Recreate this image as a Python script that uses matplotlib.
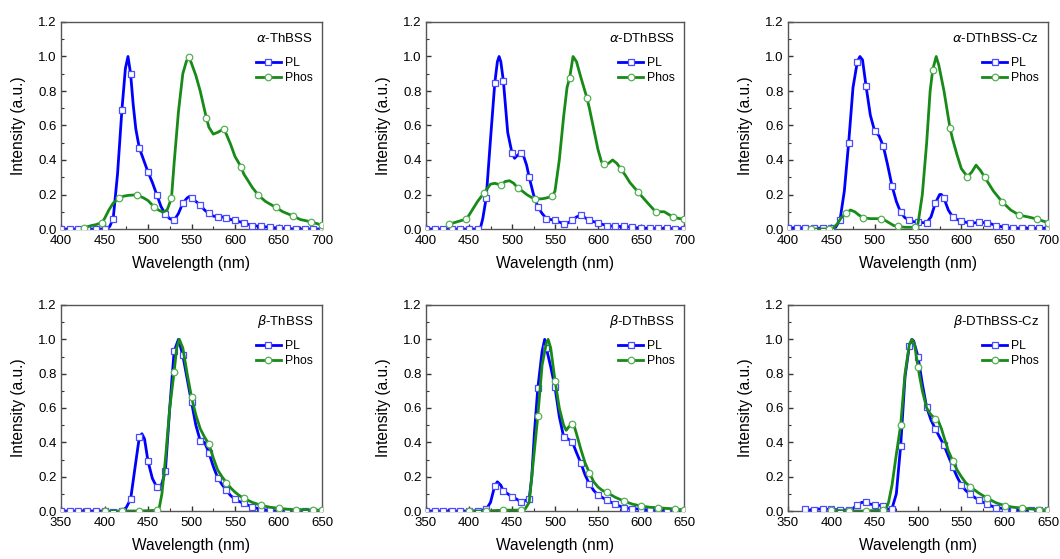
import numpy as np
import matplotlib
matplotlib.use("Agg")
import matplotlib.pyplot as plt
from matplotlib.ticker import MultipleLocator, FormatStrFormatter
from matplotlib.lines import Line2D

plt.rcParams['font.family'] = ['Liberation Sans', 'DejaVu Sans']

# ---------------- data (wavelength nm, normalized intensity) ----------------
A_THBSS_PL = [(400,0),(410,0),(420,0),(430,0),(440,0),(450,0),(453,0),(456,0.015),(460,0.06),(465,0.32),
              (470,0.69),(474,0.93),(477,1.0),(480,0.90),(483,0.72),(486,0.58),(490,0.47),(495,0.40),(500,0.33),
              (505,0.27),(510,0.20),(515,0.13),(520,0.085),(525,0.06),(530,0.05),(535,0.09),(540,0.15),
              (545,0.18),(548,0.19),(550,0.18),(555,0.16),(560,0.14),(565,0.11),(570,0.09),(575,0.075),
              (580,0.07),(585,0.07),(590,0.065),(595,0.055),(600,0.05),(610,0.035),(620,0.02),(630,0.015),
              (640,0.01),(650,0.005),(660,0.003),(670,0),(680,0),(690,0),(700,0)]
A_THBSS_PH = [(427,0.008),(435,0.02),(440,0.025),(447,0.037),(450,0.06),(455,0.11),(460,0.15),(467,0.18),
              (472,0.19),(477,0.195),(487,0.198),(495,0.18),(500,0.165),(507,0.128),(512,0.11),(517,0.098),
              (522,0.11),(527,0.18),(530,0.38),(535,0.68),(540,0.90),(544,0.97),(547,1.0),(550,0.96),
              (555,0.89),(560,0.80),(567,0.646),(570,0.59),(575,0.55),(580,0.56),(587,0.58),(590,0.55),
              (595,0.49),(600,0.42),(607,0.36),(610,0.32),(615,0.28),(620,0.24),(627,0.195),(635,0.16),
              (647,0.125),(655,0.10),(667,0.075),(675,0.055),(687,0.042),(695,0.03),(700,0.022)]

A_DTHBSS_PL = [(400,0),(410,0),(420,0),(430,0),(440,0),(450,0),(460,0),(463,0),(466,0.06),(470,0.18),
               (475,0.52),(480,0.847),(483,0.97),(485,1.0),(487,0.97),(490,0.857),(495,0.56),(500,0.44),
               (503,0.41),(507,0.43),(510,0.44),(513,0.43),(517,0.37),(520,0.30),(525,0.20),(530,0.13),
               (535,0.09),(540,0.06),(545,0.055),(550,0.05),(555,0.04),(560,0.03),(565,0.035),(570,0.05),
               (575,0.07),(580,0.08),(585,0.065),(590,0.05),(600,0.035),(610,0.02),(620,0.015),(630,0.015),
               (640,0.01),(650,0.005),(660,0.005),(670,0.003),(680,0.003),(690,0.002),(700,0.002)]
A_DTHBSS_PH = [(427,0.028),(435,0.04),(447,0.058),(450,0.08),(455,0.12),(460,0.16),(467,0.206),(475,0.26),
               (480,0.265),(487,0.255),(492,0.275),(497,0.28),(502,0.265),(507,0.235),(512,0.22),(517,0.20),
               (522,0.185),(527,0.175),(535,0.175),(540,0.18),(547,0.19),(550,0.22),(555,0.40),(560,0.65),
               (564,0.82),(567,0.876),(571,1.0),(575,0.97),(580,0.88),(587,0.762),(590,0.70),(595,0.58),
               (600,0.46),(604,0.39),(607,0.378),(612,0.38),(617,0.40),(622,0.38),(627,0.345),(632,0.31),
               (637,0.27),(647,0.212),(657,0.155),(667,0.10),(672,0.10),(677,0.10),(687,0.07),(695,0.06),(700,0.058)]

A_DTHBSS_CZ_PL = [(400,0.005),(410,0.008),(420,0.005),(430,0.005),(440,0.005),(450,0.005),(455,0.01),
                  (460,0.052),(465,0.22),(470,0.50),(475,0.82),(480,0.97),(483,1.0),(486,0.98),(490,0.83),
                  (495,0.66),(500,0.567),(505,0.54),(510,0.48),(515,0.37),(520,0.25),(525,0.16),(530,0.096),
                  (535,0.065),(540,0.052),(545,0.042),(550,0.042),(555,0.037),(560,0.037),(565,0.07),
                  (570,0.15),(575,0.20),(577,0.20),(580,0.178),(585,0.11),(590,0.07),(595,0.055),(600,0.046),
                  (610,0.033),(620,0.038),(630,0.037),(640,0.02),(650,0.01),(660,0.005),(670,0.005),
                  (680,0.005),(690,0.005),(700,0.005)]
A_DTHBSS_CZ_PH = [(427,0),(447,0),(452,0.005),(457,0.03),(462,0.07),(467,0.09),(472,0.11),(477,0.10),
                  (482,0.08),(487,0.065),(495,0.06),(500,0.06),(507,0.06),(512,0.05),(517,0.035),(522,0.02),
                  (527,0.015),(535,0.01),(540,0.01),(547,0.01),(550,0.03),(555,0.2),(560,0.5),(564,0.8),
                  (567,0.924),(571,1.0),(574,0.95),(580,0.80),(587,0.583),(590,0.52),(595,0.43),(600,0.35),
                  (607,0.303),(612,0.33),(617,0.37),(622,0.34),(627,0.30),(632,0.26),(637,0.22),(647,0.158),
                  (657,0.11),(667,0.08),(677,0.07),(687,0.058),(695,0.045),(700,0.037)]

B_THBSS_PL = [(350,0),(360,0),(370,0),(380,0),(390,0),(400,0),(410,-0.005),(420,0),(425,0.02),(430,0.068),
              (435,0.25),(440,0.43),(443,0.45),(446,0.42),(450,0.29),(455,0.19),(460,0.14),(463,0.135),
              (466,0.16),(470,0.234),(475,0.60),(480,0.93),(485,1.0),(490,0.907),(495,0.77),(500,0.634),
              (505,0.50),(510,0.41),(515,0.40),(520,0.34),(525,0.26),(530,0.195),(535,0.155),(540,0.12),
              (545,0.09),(550,0.068),(555,0.055),(560,0.045),(570,0.023),(580,0.01),(590,0.003),(600,0),
              (610,0),(620,0),(630,0),(640,0),(650,0)]
B_THBSS_PH = [(400,0),(420,0),(440,0),(460,0.004),(463,0.02),(466,0.10),(470,0.30),(475,0.60),(480,0.81),
              (483,0.95),(486,1.0),(490,0.95),(495,0.80),(500,0.663),(505,0.56),(510,0.48),(515,0.43),
              (520,0.39),(525,0.31),(530,0.24),(535,0.20),(540,0.166),(545,0.135),(550,0.11),(555,0.09),
              (560,0.074),(570,0.05),(580,0.033),(590,0.022),(600,0.016),(610,0.01),(620,0.008),(630,0.007),
              (640,0.006),(650,0.004)]

B_DTHBSS_PL = [(350,0),(360,0),(370,0),(380,0),(390,0),(400,0),(410,0),(420,0.01),(425,0.05),(430,0.148),
               (433,0.17),(437,0.15),(440,0.117),(445,0.10),(450,0.083),(455,0.07),(460,0.054),(465,0.06),
               (470,0.07),(473,0.20),(476,0.45),(480,0.715),(485,0.93),(488,1.0),(490,0.948),(495,0.84),
               (500,0.72),(505,0.55),(510,0.433),(515,0.42),(520,0.404),(525,0.34),(530,0.28),(535,0.21),
               (540,0.157),(545,0.12),(550,0.093),(560,0.064),(570,0.039),(580,0.019),(590,0.014),
               (600,0.01),(610,0.005),(620,0.003),(630,0.002),(640,0.002),(650,0.002)]
B_DTHBSS_PH = [(400,0),(420,0),(440,0.005),(460,0.005),(465,0.01),(470,0.05),(475,0.30),(480,0.553),
               (485,0.85),(490,0.98),(492,1.0),(495,0.95),(500,0.76),(505,0.60),(510,0.50),(513,0.47),
               (516,0.49),(520,0.507),(522,0.50),(525,0.45),(530,0.36),(535,0.28),(540,0.223),(545,0.17),
               (550,0.14),(555,0.12),(560,0.109),(570,0.08),(580,0.058),(590,0.04),(600,0.029),(610,0.022),
               (620,0.019),(630,0.015),(640,0.012),(650,0.006)]

B_DTHBSS_CZ_PL = [(370,0.012),(375,0.005),(380,0.006),(385,0.012),(390,0.01),(400,0.01),(410,0.006),
                  (420,0.006),(425,0.015),(430,0.035),(435,0.05),(440,0.05),(445,0.04),(450,0.035),
                  (455,0.033),(460,0.03),(465,0.01),(470,0.014),(475,0.10),(480,0.38),(485,0.78),
                  (490,0.963),(493,1.0),(495,0.99),(500,0.90),(505,0.74),(510,0.604),(515,0.53),(520,0.478),
                  (525,0.43),(530,0.383),(535,0.32),(540,0.258),(545,0.20),(550,0.151),(555,0.12),
                  (560,0.097),(570,0.064),(580,0.039),(590,0.019),(600,0.014),(610,0.006),(620,0.003),
                  (630,0.003),(640,0.003),(650,0.003)]
B_DTHBSS_CZ_PH = [(400,0.005),(420,0),(440,0),(460,0.006),(463,0.01),(466,0.05),(470,0.15),(475,0.33),
                  (480,0.50),(485,0.80),(490,0.97),(493,1.0),(496,0.97),(500,0.837),(505,0.70),(510,0.60),
                  (515,0.56),(520,0.538),(523,0.53),(527,0.48),(530,0.43),(535,0.35),(540,0.293),(545,0.24),
                  (550,0.20),(555,0.165),(560,0.142),(570,0.105),(580,0.074),(590,0.048),(600,0.031),
                  (610,0.022),(620,0.017),(630,0.012),(640,0.008),(650,0.006)]

TITLES = [r'$\alpha$-ThBSS', r'$\alpha$-DThBSS', r'$\alpha$-DThBSS-Cz',
          r'$\beta$-ThBSS', r'$\beta$-DThBSS', r'$\beta$-DThBSS-Cz']
PL_SERIES = [A_THBSS_PL, A_DTHBSS_PL, A_DTHBSS_CZ_PL, B_THBSS_PL, B_DTHBSS_PL, B_DTHBSS_CZ_PL]
PH_SERIES = [A_THBSS_PH, A_DTHBSS_PH, A_DTHBSS_CZ_PH, B_THBSS_PH, B_DTHBSS_PH, B_DTHBSS_CZ_PH]
# marker wavelengths
TOP_PL_MARKS = list(range(400, 701, 10))
TOP_PH_MARKS = list(range(427, 700, 20)) + [700]
BOT_PL_MARKS = list(range(350, 651, 10))
BOT_PH_MARKS = list(range(400, 641, 20)) + [650]
XLIMS = [(400, 700)] * 3 + [(350, 650)] * 3

# ---------------- styling ----------------
W, H = 1060, 559
fig = plt.figure(figsize=(W / 100, H / 100), dpi=100)
col_px = [(61, 322), (426, 684), (788, 1048)]
row_px = [(22, 229), (305, 511)]

BLUE = '#0000ff'
GREEN = '#188a18'
BLUE_EDGE = '#4b4bff'
GREEN_EDGE = '#55b055'
MS_SQ, MS_CI = 4.5, 4.7

for i in range(6):
    r, c = divmod(i, 3)
    (x0, x1), (y0, y1) = col_px[c], row_px[r]
    ax = fig.add_axes([x0 / W, 1 - y1 / H, (x1 - x0) / W, (y1 - y0) / H])
    pl = np.array(PL_SERIES[i]); ph = np.array(PH_SERIES[i])
    plm = TOP_PL_MARKS if r == 0 else BOT_PL_MARKS
    phm = TOP_PH_MARKS if r == 0 else BOT_PH_MARKS
    pl_idx = [k for k, w in enumerate(pl[:, 0]) if int(w) in plm]
    ph_idx = [k for k, w in enumerate(ph[:, 0]) if int(w) in phm]
    ax.plot(pl[:, 0], pl[:, 1], color=BLUE, lw=2.0, zorder=2)
    ax.plot(pl[pl_idx, 0], pl[pl_idx, 1], ls='none', marker='s', ms=MS_SQ, mfc='white',
            mec=BLUE_EDGE, mew=0.9, zorder=3)
    ax.plot(ph[:, 0], ph[:, 1], color=GREEN, lw=2.0, zorder=4)
    ax.plot(ph[ph_idx, 0], ph[ph_idx, 1], ls='none', marker='o', ms=MS_CI, mfc='white',
            mec=GREEN_EDGE, mew=0.9, zorder=5)

    ax.set_xlim(*XLIMS[i])
    ax.set_ylim(0, 1.2)
    ax.xaxis.set_major_locator(MultipleLocator(50))
    ax.xaxis.set_minor_locator(MultipleLocator(25))
    ax.yaxis.set_major_locator(MultipleLocator(0.2))
    ax.yaxis.set_minor_locator(MultipleLocator(0.1))
    ax.yaxis.set_major_formatter(FormatStrFormatter('%.1f'))
    ax.tick_params(which='both', direction='in', top=False, right=False,
                   labelsize=9.5, color='#333333')
    ax.tick_params(axis='x', which='major', pad=4)
    ax.tick_params(axis='y', which='major', pad=3)
    ax.tick_params(which='major', length=3.5, width=1.0)
    ax.tick_params(which='minor', length=2, width=0.8)
    for s in ax.spines.values():
        s.set_color('#555555'); s.set_linewidth(1.0)
    ax.set_xlabel('Wavelength (nm)', fontsize=11.2, labelpad=7)
    ax.set_ylabel('Intensity (a.u.)', fontsize=11.2, labelpad=9)

    ax.text(0.965, 0.922, TITLES[i], transform=ax.transAxes, ha='right', va='center', fontsize=9.5)
    h1 = Line2D([], [], color=BLUE, lw=2.0, marker='s', ms=MS_SQ, mfc='white', mec=BLUE_EDGE, mew=0.9)
    h2 = Line2D([], [], color=GREEN, lw=2.0, marker='o', ms=MS_CI, mfc='white', mec=GREEN_EDGE, mew=0.9)
    ax.legend([h1, h2], ['PL', 'Phos'], loc='upper right', bbox_to_anchor=(0.965, 0.83),
              frameon=False, fontsize=8.8, handlelength=2.1, handletextpad=0.3,
              labelspacing=0.25, borderpad=0, borderaxespad=0)

fig.savefig('out.png', dpi=100)
